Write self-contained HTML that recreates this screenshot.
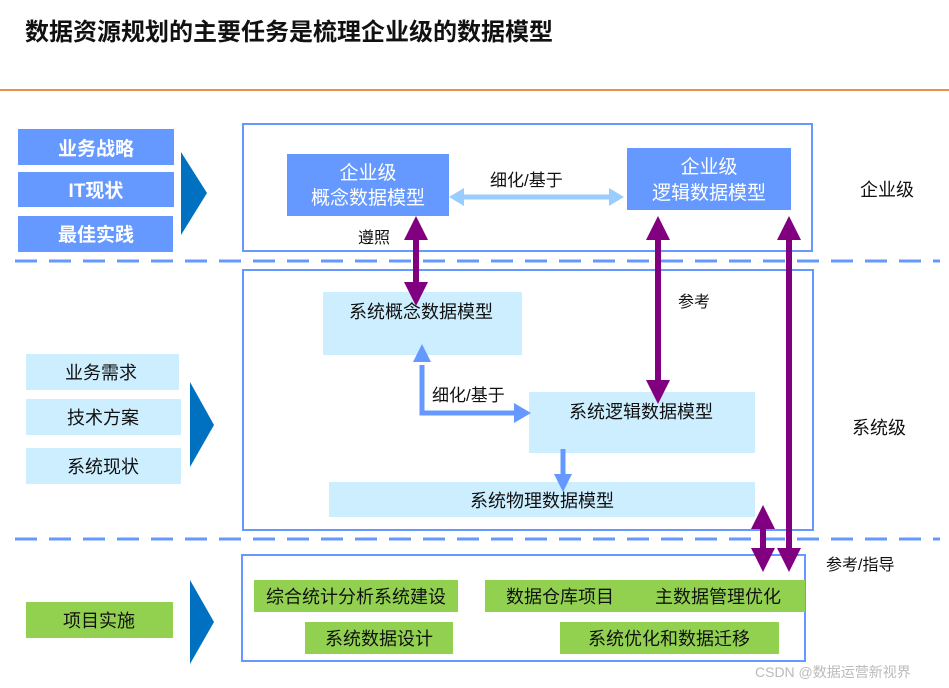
<!DOCTYPE html>
<html><head><meta charset="utf-8"><style>
body{margin:0;background:#fff;}
svg{display:block;}
text{font-family:"Liberation Sans","Noto Sans CJK SC",sans-serif;}
</style></head><body>
<svg width="949" height="688" viewBox="0 0 949 688" xmlns="http://www.w3.org/2000/svg">
<defs>
<marker id="pu" markerWidth="4" markerHeight="4" refX="2" refY="2" orient="auto-start-reverse" markerUnits="strokeWidth"><path d="M0,0 L4,2 L0,4 z" fill="#800080"/></marker>
</defs>
<text x="25" y="40" font-size="24" font-weight="bold" fill="#111">数据资源规划的主要任务是梳理企业级的数据模型</text>
<line x1="0" y1="90" x2="949" y2="90" stroke="#e46c0a" stroke-width="1.5"/>

<!-- left enterprise inputs -->
<rect x="18" y="129" width="156" height="36" fill="#6699ff"/>
<rect x="18" y="172" width="156" height="35" fill="#6699ff"/>
<rect x="18" y="216" width="155" height="36" fill="#6699ff"/>
<g font-size="19" fill="#fff" text-anchor="middle" font-weight="bold">
<text x="96" y="155">业务战略</text><text x="96" y="197">IT现状</text><text x="96" y="241">最佳实践</text></g>
<polygon points="181,152 207,193 181,235" fill="#0070c0"/>

<!-- enterprise box -->
<rect x="243" y="124" width="569" height="127" fill="none" stroke="#6699ff" stroke-width="2"/>
<rect x="287" y="154" width="162" height="62" fill="#6699ff"/>
<rect x="627" y="148" width="164" height="62" fill="#6699ff"/>
<g font-size="19" fill="#fff" text-anchor="middle">
<text x="368" y="179">企业级</text><text x="368" y="204">概念数据模型</text>
<text x="709" y="173">企业级</text><text x="709" y="199">逻辑数据模型</text></g>
<line x1="462" y1="197" x2="610" y2="197" stroke="#99ccff" stroke-width="5"/>
<polygon points="449,197 464,188 464,206" fill="#99ccff"/>
<polygon points="624,197 609,188 609,206" fill="#99ccff"/>
<text x="490" y="186" font-size="17" fill="#111">细化/基于</text>
<text x="358" y="243" font-size="16" fill="#111">遵照</text>
<text x="860" y="196" font-size="18" fill="#111">企业级</text>

<line x1="15" y1="261" x2="940" y2="261" stroke="#6699ff" stroke-width="3" stroke-dasharray="22,12"/>

<!-- system level -->
<rect x="26" y="354" width="153" height="36" fill="#cceeff"/>
<rect x="26" y="399" width="155" height="36" fill="#cceeff"/>
<rect x="26" y="448" width="155" height="36" fill="#cceeff"/>
<g font-size="18" fill="#111" text-anchor="middle">
<text x="101" y="379">业务需求</text><text x="103" y="424">技术方案</text><text x="103" y="473">系统现状</text></g>
<polygon points="190,382 214,425 190,467" fill="#0070c0"/>

<rect x="243" y="270" width="570" height="260" fill="none" stroke="#6699ff" stroke-width="2"/>
<rect x="323" y="292" width="199" height="63" fill="#cceeff"/>
<rect x="529" y="392" width="226" height="61" fill="#cceeff"/>
<rect x="329" y="482" width="426" height="35" fill="#cceeff"/>
<g font-size="18" fill="#111" text-anchor="middle">
<text x="421" y="318">系统概念数据模型</text>
<text x="641" y="418">系统逻辑数据模型</text>
<text x="542" y="507">系统物理数据模型</text></g>
<!-- elbow arrow -->
<polyline points="422,365 422,413 514,413" fill="none" stroke="#6699ff" stroke-width="5"/>
<polygon points="422,344 413,362 431,362" fill="#6699ff"/>
<polygon points="531,413 514,403 514,423" fill="#6699ff"/>
<text x="432" y="401" font-size="17" fill="#111">细化/基于</text>
<line x1="563" y1="449" x2="563" y2="476" stroke="#6699ff" stroke-width="5"/>
<polygon points="563,492 554,474 572,474" fill="#6699ff"/>
<text x="678" y="307" font-size="16" fill="#111">参考</text>
<text x="852" y="434" font-size="18" fill="#111">系统级</text>

<line x1="15" y1="539" x2="940" y2="539" stroke="#6699ff" stroke-width="3" stroke-dasharray="22,12"/>

<!-- project level -->
<rect x="26" y="602" width="147" height="36" fill="#92d050"/>
<text x="99" y="627" font-size="18" fill="#111" text-anchor="middle">项目实施</text>
<polygon points="190,580 214,622 190,664" fill="#0070c0"/>
<rect x="242" y="555" width="563" height="106" fill="none" stroke="#6699ff" stroke-width="2"/>
<rect x="254" y="580" width="204" height="32" fill="#92d050"/>
<rect x="485" y="580" width="320" height="32" fill="#92d050"/>
<rect x="305" y="622" width="148" height="32" fill="#92d050"/>
<rect x="560" y="622" width="219" height="32" fill="#92d050"/>
<g font-size="18" fill="#111" text-anchor="middle">
<text x="356" y="603">综合统计分析系统建设</text>
<text x="560" y="603">数据仓库项目</text>
<text x="718" y="603">主数据管理优化</text>
<text x="379" y="645">系统数据设计</text>
<text x="669" y="645">系统优化和数据迁移</text></g>
<text x="826" y="570" font-size="16" fill="#111">参考/指导</text>

<!-- purple arrows -->
<g stroke="#800080" stroke-width="6" marker-start="url(#pu)" marker-end="url(#pu)">
<line x1="416" y1="228" x2="416" y2="294"/>
<line x1="658" y1="228" x2="658" y2="392"/>
<line x1="789" y1="228" x2="789" y2="560"/>
<line x1="763" y1="517" x2="763" y2="560"/>
</g>
<text x="755" y="677" font-size="14" fill="#bbb">CSDN @数据运营新视界</text>
</svg>
</body></html>
